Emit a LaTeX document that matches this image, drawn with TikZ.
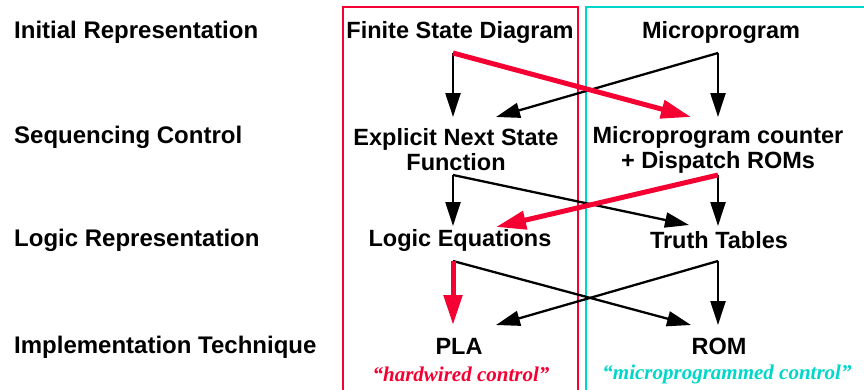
\documentclass[tikz,border=0pt]{standalone}
\usepackage{fontspec}
\setmainfont{Liberation Sans}
\newfontfamily\quotefont{Liberation Serif}
\usetikzlibrary{arrows.meta}
\definecolor{hwred}{RGB}{245,0,50}
\definecolor{mpcyan}{RGB}{0,215,200}

\begin{document}
\begin{tikzpicture}[
    x=1pt, y=-1pt, % one unit per pixel of the page, y grows downwards
    every node/.style={font=\fontsize{23.5}{25}\selectfont\bfseries, inner sep=0pt},
    level/.style={anchor=west, font=\fontsize{24}{26}\selectfont\bfseries},
    item/.style={align=center},
    tag/.style={font=\fontsize{21}{24}\selectfont\quotefont\bfseries\itshape},
    flow/.style={black, line width=2.3pt, -{Triangle[length=24,width=15]}},
    hot/.style={hwred, line width=5pt, -{Triangle[length=30,width=18]}}
    ]
\useasboundingbox (0,0) rectangle (864,389);

% --- Frames ---
\draw[hwred, line width=2pt] (343,400) |- (578,7) -- (578,400);
\draw[mpcyan, line width=2pt] (586,400) |- (880,7);

% --- Row labels ---
\foreach \y/\txt [count=\i from 0] in {32/Initial Representation,
    137/Sequencing Control, 240/Logic Representation,
    347/Implementation Technique} {
    \node[level] (L-\i) at (14,\y) {\txt};
}

% --- Stages ---
\node[item] (fsd)   at (460,32)  {Finite State Diagram};
\node[item] (mprog) at (721,32)  {Microprogram};
\node[item] (nsf)   at (456,150) {Explicit Next State\\Function};
\node[item] (mpc)   at (718,150) {Microprogram counter\\+ Dispatch ROMs};
\node[item] (leq)   at (460,240) {Logic Equations};
\node[item] (ttab)  at (719,240) {Truth Tables};
\node[item] (pla)   at (459,346) {PLA};
\node[item] (rom)   at (719,346) {ROM};
\node[tag, text=hwred]  (hw) at (461,374) {“hardwired control”};
\node[tag, text=mpcyan] (mp) at (727,374) {“microprogrammed control”};

% --- Connection points ---
% leaving each stage
\coordinate (fsd-out)   at (453,53);
\coordinate (mprog-out) at (718,53);
\coordinate (nsf-out)   at (453,175);
\coordinate (mpc-out)   at (718,175);
\coordinate (leq-out)   at (453,261);
\coordinate (ttab-out)  at (718,261);
% entering each stage, straight down and from the side
\coordinate (nsf-in)    at (453,117);
\coordinate (nsf-side)  at (496,117);
\coordinate (mpc-in)    at (718,117);
\coordinate (mpc-side)  at (691,117);
\coordinate (leq-in)    at (453,226);
\coordinate (leq-side)  at (496,227);
\coordinate (ttab-in)   at (718,226);
\coordinate (ttab-side) at (689,225);
\coordinate (pla-in)    at (453,325);
\coordinate (pla-side)  at (496,325);
\coordinate (rom-in)    at (718,325);
\coordinate (rom-side)  at (691,325);

% --- Draw Connections ---
\draw[flow] (fsd-out) -- (nsf-in);
\draw[flow] (mprog-out) -- (mpc-in);
\draw[flow] (mprog-out) -- (nsf-side);
\draw[flow] (nsf-out) -- (leq-in);
\draw[flow] (nsf-out) -- (ttab-side);
\draw[flow] (mpc-out) -- (ttab-in);
\draw[flow] (leq-out) -- (rom-side);
\draw[flow] (ttab-out) -- (rom-in);
\draw[flow] (ttab-out) -- (pla-side);

% the hardwired path
\draw[hot] (fsd-out) -- (mpc-side);
\draw[hot] (mpc-out) -- (leq-side);
\draw[hot] (leq-out) -- (pla-in);

\end{tikzpicture}
\end{document}
